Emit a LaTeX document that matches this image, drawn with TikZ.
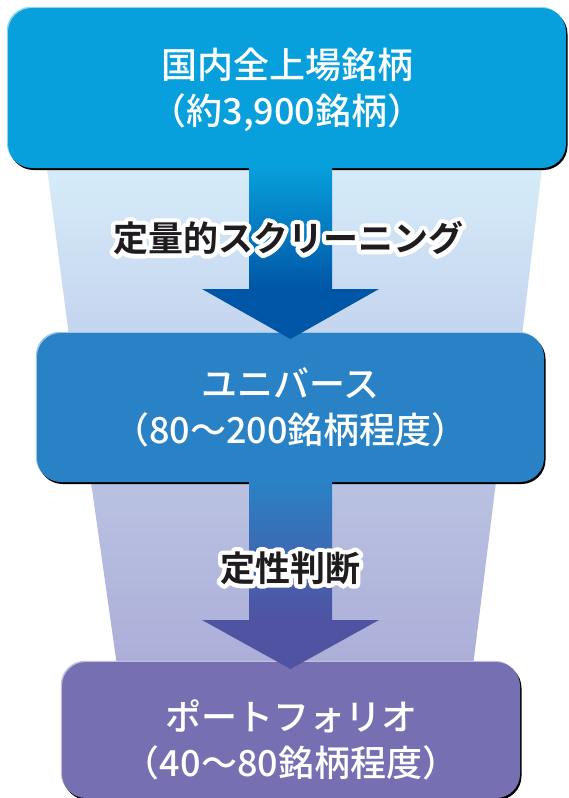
\documentclass[tikz,border=0pt]{standalone}
\usepackage{fontspec}
\setmainfont{Noto Sans CJK JP}[UprightFont=* Medium, BoldFont=* Bold]
\newfontfamily\halofont{Noto Sans CJK JP Bold}[FakeBold=25]
\usetikzlibrary{shadows,backgrounds}

\definecolor{boxA}{RGB}{8,160,220}
\definecolor{boxB}{RGB}{41,130,198}
\definecolor{boxC}{RGB}{118,112,178}
\definecolor{funAtop}{RGB}{214,236,249}
\definecolor{funAbot}{RGB}{196,212,238}
\definecolor{funBtop}{RGB}{186,194,226}
\definecolor{funBbot}{RGB}{172,174,216}
\definecolor{arrA}{RGB}{0,86,166}
\definecolor{arrB}{RGB}{80,82,162}
\definecolor{lbltext}{RGB}{30,28,30}

\tikzset{
  stagebox/.style={rounded corners=24pt, fill=#1, inner sep=0pt,
    general shadow={fill=white!55!#1, shadow xshift=-1.2pt, shadow yshift=1.2pt},
    general shadow={fill=black, shadow xshift=1.5pt, shadow yshift=-2pt}},
  boxtext/.style={text=white, align=center, font=\fontsize{36}{46}\selectfont},
  steplabel/.style={text=lbltext, font=\fontsize{35}{40}\selectfont\bfseries},
  stephalo/.style={text=white, line join=round, line cap=round,
    font=\fontsize{35}{40}\selectfont\halofont}
}

\begin{document}
\begin{tikzpicture}[x=1pt, y=-1pt]
        \useasboundingbox (0,0) rectangle (568,798);
        % funnel behind the stages
        \begin{scope}[on background layer]
          \shade [top color=funAtop, bottom color=funAbot] (47,168) -- (542,168) -- (522,336) -- (69,336) -- cycle;
          \shade [top color=funBtop, bottom color=funBbot] (91,482) -- (496,482) -- (473,666) -- (117,666) -- cycle;
        \end{scope}
        % stages
        \node [stagebox=boxA, minimum width=558pt, minimum height=160pt] (all) at (287,88) {};
        \node [boxtext] (alltext) at (287,90) {国内全上場銘柄\\（約3,900銘柄）};
        \node [stagebox=boxB, minimum width=507pt, minimum height=149pt] (universe) at (290.5,407.5) {};
        \node [boxtext] (universetext) at (universe.center) {ユニバース\\（80～200銘柄程度）};
        \node [stagebox=boxC, minimum width=458pt, minimum height=136pt] (portfolio) at (291,730) {};
        \node [boxtext] (portfoliotext) at (291,740) {ポートフォリオ\\（40～80銘柄程度）};
        % arrows between the stages
        \coordinate (a1tip) at (290.5,339);
        \coordinate (a2tip) at (290.5,669);
        \shade [top color=boxA, bottom color=arrA] (249,166) rectangle (332,290);
        \fill [arrA] (202,289) -- (379,289) -- (a1tip) -- cycle;
        \shade [top color=boxB, bottom color=arrB] (249,480) rectangle (332,621);
        \fill [arrB] (202,620) -- (379,620) -- (a2tip) -- cycle;
        % step labels, white halo first
        \node [stephalo] at (288,238) {定量的スクリーニング};
        \node [steplabel] (quant) at (288,238) {定量的スクリーニング};
        \node [stephalo] at (290,568) {定性判断};
        \node [steplabel] (qual) at (290,568) {定性判断};
      \end{tikzpicture}
\end{document}
